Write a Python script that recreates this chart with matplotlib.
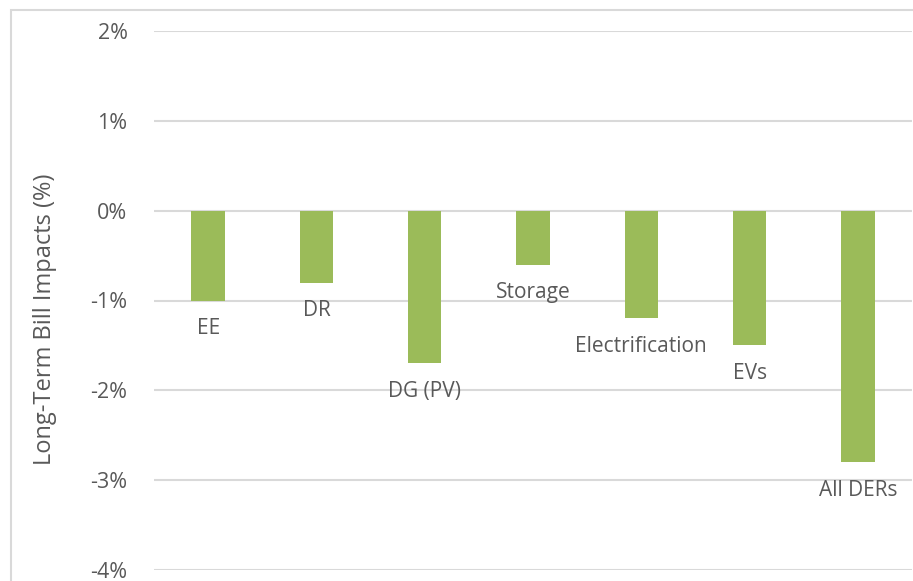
import matplotlib
matplotlib.use("Agg")
import matplotlib.pyplot as plt
from matplotlib.patches import Rectangle
from matplotlib.ticker import FuncFormatter

categories = ["EE", "DR", "DG (PV)", "Storage", "Electrification", "EVs", "All DERs"]
impacts = [-1.0, -0.8, -1.7, -0.6, -1.2, -1.5, -2.8]
yticks = [-4, -3, -2, -1, 0, 1, 2]

plt.rcParams["font.family"] = ["Open Sans", "DejaVu Sans"]
text_color = "#595959"

W, H = 913, 581
fig = plt.figure(figsize=(W / 100, H / 100), dpi=100)

# chart area border (cut off on the right and bottom)
fig.patches.append(Rectangle((11 / W, -0.1), 1.2, 1 - 10 / H + 0.1,
                             transform=fig.transFigure, fill=False,
                             edgecolor="#d9d9d9", linewidth=1.5))

ax = fig.add_axes([154 / W, 1 - 570 / H, (912 - 154) / W, (570 - 31) / H])
x = range(len(categories))
ax.bar(x, impacts, width=0.31, color="#9bbb59", zorder=3)

for i, (name, v) in enumerate(zip(categories, impacts)):
    ax.annotate(name, (i, v), xytext=(0, -28), textcoords="offset pixels",
                ha="center", va="center", fontsize=15, color=text_color, zorder=4)

ax.set_xlim(-0.5, len(categories) - 0.5)
ax.set_ylim(-4, 2)
ax.set_yticks(yticks)
ax.yaxis.set_major_formatter(FuncFormatter(lambda v, p: f"{v:.0f}%"))
ax.tick_params(axis="y", length=0, pad=19, labelsize=15.5, labelcolor=text_color)
for lbl in ax.get_yticklabels():
    lbl.set_verticalalignment("center_baseline")
ax.set_xticks([])
ax.grid(axis="y", color="#d9d9d9", linewidth=1.5, zorder=0)
for s in ax.spines.values():
    s.set_visible(False)

fig.text(45 / W, 1 - 319 / H, "Long-Term Bill Impacts (%)", rotation=90,
         ha="center", va="center", fontsize=17, color=text_color)

fig.savefig("out.png", dpi=100)
